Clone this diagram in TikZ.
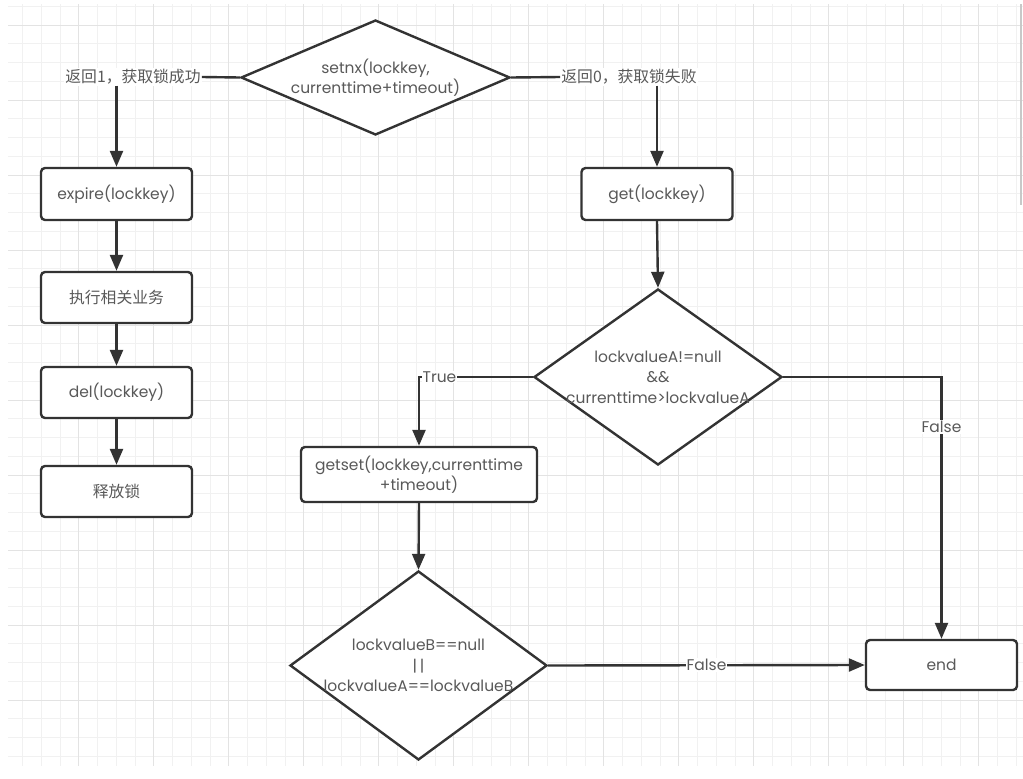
\documentclass[tikz,border=0pt]{standalone}
\usepackage{fontspec}
\setmainfont{Poppins}
\newfontfamily\cjk{Noto Sans CJK SC}
\usetikzlibrary{shapes.geometric,arrows.meta}
\definecolor{ln}{HTML}{333333}
\definecolor{tx}{HTML}{595959}
\definecolor{gmin}{HTML}{F1F1F1}
\definecolor{gmaj}{HTML}{E3E3E3}
\definecolor{sbar}{HTML}{C8C8C8}
\begin{document}
\begin{tikzpicture}[x=1pt,y=-1pt,
  txtfont/.style={font=\fontsize{15.5}{20.5}\selectfont},
  cjkfont/.style={font=\cjk\fontsize{15.8}{20}\selectfont},
  box/.style={draw=ln, line width=2.4pt, rounded corners=4pt, fill=white, text=tx,
    minimum width=151pt, minimum height=52pt, align=center, inner sep=0pt, txtfont},
  dia/.style={draw=ln, line width=2.4pt, diamond, fill=white, inner sep=0pt},
  dtext/.style={text=tx, align=center, txtfont, inner sep=0pt},
  conn/.style={draw=ln, line width=2.4pt},
  arr/.style={conn, -{Triangle[length=16pt,width=13pt]}},
  lbl/.style={text=tx, inner sep=1pt, fill=white, txtfont}
]
\fill[white] (0,0) rectangle (1023,779);
\useasboundingbox (0,0) rectangle (1023,779);
% grid
\foreach \k in {1,...,54} \draw[gmin, line width=1pt] ({3.75+18.75*\k},4) -- ({3.75+18.75*\k},766);
\foreach \k in {0,...,40} \draw[gmin, line width=1pt] (8,{6.25+18.75*\k}) -- (1023,{6.25+18.75*\k});
\foreach \k in {1,...,13} \draw[gmaj, line width=1pt] ({3.75+75*\k},4) -- ({3.75+75*\k},766);
\foreach \k in {0,...,9} \draw[gmaj, line width=1pt] (8,{25+75*\k}) -- (1023,{25+75*\k});
\draw[sbar, line width=1.5pt] (1021,4) -- (1021,205);

% nodes
\node (d1) [dia, minimum width=269pt, minimum height=115pt] at (375.5,77.5) {};
\node (d1t) [dtext] at (d1) {setnx(lockkey,\\currenttime+timeout)};
\node (l1) [lbl, cjkfont, text=tx] at (133,77) {返回1，获取锁成功};
\node (l2) [lbl, cjkfont, text=tx] at (629,77) {返回0，获取锁失败};

\node (e1) [box] at (116.5,194) {expire(lockkey)};
\node (b2) [box, cjkfont, minimum height=51pt] at (116.5,297.5) {执行相关业务};
\node (b3) [box, minimum height=51pt] at (116.5,392.5) {del(lockkey)};
\node (b4) [box, cjkfont, minimum height=51pt] at (116.5,491.5) {释放锁};

\node (g1) [box] at (657,194) {get(lockkey)};
\node (d2) [dia, minimum width=248pt, minimum height=176pt] at (658,377) {};
\node (d2t) [dtext] at (d2) {lockvalueA!=null\\\&\&\\currenttime>lockvalueA};
\node (gs) [box, minimum width=236pt, minimum height=55pt] at (419,474.5) {getset(lockkey,currenttime\\+timeout)};
\node (d3) [dia, minimum width=257pt, minimum height=189pt] at (418.5,665.5) {};
\node (d3t) [dtext] at (d3) {lockvalueB==null\\|\,|\\lockvalueA==lockvalueB};
\node (en) [box, minimum height=50pt] at (941.5,665) {end};

% connectors
\draw[conn] (d1.west) -- (l1.east);
\draw[arr] (l1.south -| e1.north) -- (e1.north);
\draw[conn] (d1.east) -- (l2.west);
\draw[arr] (l2.south -| g1.north) -- (g1.north);
\draw[arr] (e1.south) -- (b2.north);
\draw[arr] (b2.south) -- (b3.north);
\draw[arr] (b3.south) -- (b4.north);
\draw[arr] (g1.south) -- (d2.north);
\draw[arr] (d2.west) -- node[lbl, pos=0.82] {True} (d2.west -| gs.north) -- (gs.north);
\draw[arr] (gs.south) -- (d3.north);
\draw[arr] (d3.east) -- node[lbl] {False} (en.west);
\draw[arr] (d2.east) -- (d2.east -| en.north) -- node[lbl, pos=0.19] {False} (en.north);
\end{tikzpicture}
\end{document}
